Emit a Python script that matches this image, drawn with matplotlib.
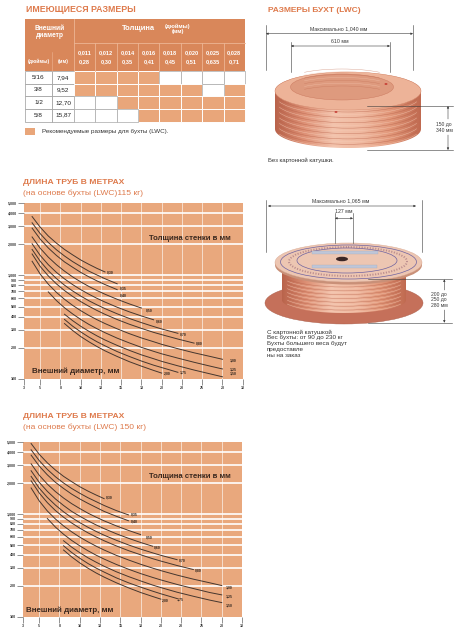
import numpy as np
import matplotlib
matplotlib.use("Agg")
import matplotlib.pyplot as plt
from matplotlib.patches import Ellipse, Rectangle, Polygon, Arc
from matplotlib.colors import LinearSegmentedColormap
from matplotlib.ticker import NullLocator

plt.rcParams['font.family'] = ['Liberation Sans', 'DejaVu Sans']

# ---- table of available sizes ----
sizes_inch = ["5/16", "3/8", "1/2", "5/8"]
sizes_mm = ["7,94", "9,52", "12,70", "15,87"]
wall_inch = ["0,011", "0,012", "0,014", "0,016", "0,018", "0,020", "0,025", "0,028"]
wall_mm = ["0,28", "0,30", "0,35", "0,41", "0,45", "0,51", "0,635", "0,71"]
recommended = [
    [1, 1, 1, 1, 0, 0, 0, 0],
    [1, 1, 1, 1, 1, 1, 0, 1],
    [0, 0, 1, 1, 1, 1, 1, 1],
    [0, 0, 0, 1, 1, 1, 1, 1],
]

# ---- tube length charts (outer diameter mm -> length m) ----
diam = [4, 5, 6, 7, 8, 9, 10, 11, 12, 13, 14.5, 16, 17.5, 19, 20, 22, 24, 26, 27.5]
wall_labels = ["0,30", "0,35", "0,40", "0,50", "0,60", "0,70", "0,80",
               "1,00", "1,25", "1,50", "1,75", "2,00"]
start_diam = [4, 4, 4, 4, 4, 4, 4, 4, 6, 8, 8, 8]

len_115 = [
    [3700, 2920, 2400, 2050, 1780, 1580, 1410, 1280, 1170, 1080],
    [3220, 2530, 2080, 1770, 1540, 1360, 1220, 1100, 1010, 929, 830],
    [2860, 2240, 1840, 1560, 1350, 1200, 1070, 970, 886, 816, 729],
    [2350, 1830, 1500, 1270, 1100, 968, 866, 783, 715, 658, 588, 531, 484],
    [2020, 1560, 1270, 1070, 926, 816, 729, 659, 601, 553, 493, 445, 406, 373],
    [1780, 1370, 1110, 933, 805, 708, 632, 570, 520, 478, 426, 384, 350, 321, 304, 276],
    [1610, 1220, 989, 829, 714, 627, 559, 504, 459, 421, 375, 338, 308, 282, 268, 243, 222],
    [1370, 1030, 823, 686, 588, 514, 457, 411, 374, 343, 305, 274, 249, 229, 216, 196, 179, 165, 155],
    [693, 572, 487, 425, 376, 337, 306, 280, 248, 223, 202, 185, 175, 159, 145, 133, 125],
    [422, 366, 323, 289, 261, 238, 211, 189, 171, 157, 148, 134, 122, 112, 105],
    [376, 324, 285, 254, 229, 209, 184, 165, 149, 136, 129, 116],
    [343, 294, 257, 229, 206, 187, 165, 147, 133, 121, 114],
]
len_150 = [
    [4830, 3800, 3140, 2670, 2320, 2060, 1840, 1670, 1530, 1410],
    [4200, 3300, 2710, 2300, 2000, 1770, 1590, 1440, 1320, 1210, 1080, 980],
    [3730, 2920, 2400, 2030, 1770, 1560, 1400, 1270, 1160, 1060, 951, 860],
    [3070, 2380, 1950, 1650, 1430, 1260, 1130, 1020, 933, 858, 767, 693, 631],
    [2630, 2030, 1660, 1400, 1210, 1060, 951, 860, 784, 721, 643, 581, 529, 486],
    [2320, 1780, 1450, 1220, 1050, 923, 824, 744, 678, 623, 556, 501, 456, 419, 397, 360],
    [2100, 1600, 1290, 1080, 931, 818, 729, 657, 599, 550, 490, 441, 402, 368, 349, 316, 289],
    [1790, 1340, 1070, 894, 766, 671, 596, 537, 488, 447, 397, 358, 325, 298, 282, 255, 233, 215, 202],
    [904, 746, 636, 554, 491, 440, 399, 365, 324, 291, 264, 242, 229, 207, 189, 173, 164],
    [550, 477, 421, 376, 341, 311, 275, 247, 224, 204, 193, 174, 159, 146, 138],
    [491, 423, 372, 331, 299, 273, 240, 215, 195, 178, 168, 151],
    [447, 383, 335, 298, 268, 244, 215, 192, 173, 158, 149],
]
label_pos_115 = [(13.6, 1062), (15.3, 748), (15.3, 644), (18.5, 460), (19.7, 357), (22.6, 272),
                 (24.6, 222), (28.8, 151), (28.8, 125), (28.8, 112), (22.6, 115), (20.7, 112)]
label_pos_150 = [(13.6, 1436), (16.7, 984), (16.7, 840), (18.6, 598), (19.5, 474), (22.6, 353),
                 (24.6, 283), (28.4, 195), (28.4, 157), (28.4, 130), (22.4, 149), (20.5, 144)]

x_ticks = [3, 5, 7.5, 10, 12.5, 15, 17.5, 20, 22.5, 25, 27.5, 30]
x_tick_labels = ["3", "5", "8", "10", "13", "15", "18", "20", "23", "25", "28", "30"]
y_ticks = [100, 200, 300, 400, 500, 600, 700, 800, 900, 1000, 2000, 3000, 4000, 5000]
y_tick_labels = ["100", "200", "300", "400", "500", "600", "700", "800", "900",
                 "1,000", "2,000", "3,000", "4,000", "5,000"]

W, H = 464, 630
ORANGE = '#DE7A4C'
CHART_BG = '#E9A87D'
HEADER = '#D9875A'
CELL = '#E9A67A'
CURVE = '#45362e'
DIM = '#3a3a3a'

fig = plt.figure(figsize=(W / 100, H / 100), dpi=100)
bg = fig.add_axes([0, 0, 1, 1])
bg.axis('off')


def rect(l, t, r, b):
    return [l / W, 1 - b / H, (r - l) / W, (b - t) / H]


def ftext(x, y, s, **kw):
    fig.text(x / W, 1 - y / H, s, **kw)


def ell_pts(cx, cy, w, h, a0, a1, n=80):
    t = np.radians(np.linspace(a0, a1, n))
    return np.column_stack([cx + w / 2 * np.cos(t), cy + h / 2 * np.sin(t)])


# ---------------- table ----------------
bg.text(26, 10, "ИМЕЮЩИЕСЯ РАЗМЕРЫ", fontsize=6.3, fontweight='bold', color=ORANGE, va='center')
bg.add_patch(Rectangle((25, 19), 220, 52, fc=HEADER, ec='none'))
col_x = np.linspace(74, 245, len(wall_inch) + 1)
row_y = np.linspace(71, 121.5, len(sizes_inch) + 1)
sep = '#EDB594'
bg.plot([74, 74], [19, 71], color=sep, lw=0.6)
bg.plot([52, 52], [52, 71], color=sep, lw=0.4)
bg.plot([74, 245], [43, 43], color=sep, lw=0.6)
for x in col_x[1:-1]:
    bg.plot([x, x], [43, 71], color=sep, lw=0.6)
bg.text(50, 32, "Внешний\nдиаметр", fontsize=4.8, fontweight='bold', color='white',
        ha='center', va='center', linespacing=1.1)
bg.text(38.5, 61, "(дюймы)", fontsize=3.6, fontweight='bold', color='white', ha='center', va='center')
bg.text(63, 61, "(мм)", fontsize=3.6, fontweight='bold', color='white', ha='center', va='center')
bg.text(138, 29, "Толщина", fontsize=5.4, fontweight='bold', color='white', ha='center', va='center')
bg.text(178, 29, "(дюймы)\n(мм)", fontsize=4.2, fontweight='bold', color='white',
        ha='center', va='center', linespacing=1.05)
for j in range(len(wall_inch)):
    xc = (col_x[j] + col_x[j + 1]) / 2
    bg.text(xc, 53, wall_inch[j], fontsize=4.1, fontweight='bold', color='white', ha='center', va='center')
    bg.text(xc, 62, wall_mm[j], fontsize=4.1, fontweight='bold', color='white', ha='center', va='center')

cw = col_x[1] - col_x[0]
rh = row_y[1] - row_y[0]
for i in range(len(sizes_inch)):
    bg.add_patch(Rectangle((25, row_y[i]), 27, rh, fc='white', ec='#9a9a9a', lw=0.5))
    bg.add_patch(Rectangle((52, row_y[i]), 22, rh, fc='white', ec='#9a9a9a', lw=0.5))
    bg.text(38.5, row_y[i] + rh / 2, sizes_inch[i], fontsize=4.6, ha='center', va='center', color='#222')
    bg.text(63, row_y[i] + rh / 2, sizes_mm[i], fontsize=4.6, ha='center', va='center', color='#222')
    for j, rec in enumerate(recommended[i]):
        if rec:
            bg.add_patch(Rectangle((col_x[j], row_y[i]), cw, rh, fc=CELL, ec='white', lw=0.7))
    for j, rec in enumerate(recommended[i]):
        if not rec:
            bg.add_patch(Rectangle((col_x[j], row_y[i]), cw, rh, fc='white', ec='#a8a8a8', lw=0.5))
bg.add_patch(Rectangle((25, 128), 10, 6.5, fc=CELL, ec='none'))
bg.text(42, 131.5, "Рекомендуемые размеры для бухты (LWC).", fontsize=4.5, color='#333', va='center')


# ---------------- length charts ----------------
def length_chart(box, lengths, label_pos, title_y, subtitle, wall_xy, diam_xy):
    bg.text(23, title_y, "ДЛИНА ТРУБ В МЕТРАХ", fontsize=6.1, fontweight='bold', color=ORANGE, va='center')
    bg.text(23, title_y + 10, subtitle, fontsize=6.1, color=ORANGE, va='center')
    ax = fig.add_axes(rect(*box))
    ax.set_facecolor(CHART_BG)
    ax.set_yscale('log')
    for y in y_ticks[1:-1]:
        ax.axhline(y, color='white', lw=1.2, zorder=1)
    for x in x_ticks[1:-1]:
        ax.axvline(x, color='white', lw=0.6, alpha=0.7, zorder=1)
    for vals, d0, lab, (lx, ly) in zip(lengths, start_diam, wall_labels, label_pos):
        i0 = diam.index(d0)
        ax.plot(diam[i0:i0 + len(vals)], vals, color=CURVE, lw=0.7, zorder=3)
        ax.text(lx, ly, lab, fontsize=2.5, fontweight='bold', ha='center', va='center',
                color='#2e241e', zorder=4)
    ax.set_xlim(3, 30)
    ax.set_ylim(100, 5000)
    ax.set_xticks(x_ticks, x_tick_labels)
    ax.set_yticks(y_ticks, y_tick_labels)
    ax.yaxis.set_minor_locator(NullLocator())
    ax.tick_params(length=4, width=0.5, color='#666', labelsize=2.6, pad=1, labelcolor='#333')
    for lab in ax.get_xticklabels() + ax.get_yticklabels():
        lab.set_fontweight('bold')
    for s in ax.spines.values():
        s.set_visible(False)
    ftext(*wall_xy, "Толщина стенки в мм", fontsize=5.6, fontweight='bold', color='#3a281e',
          ha='center', va='center')
    ftext(*diam_xy, "Внешний диаметр, мм", fontsize=5.8, fontweight='bold', color='#3a281e',
          ha='center', va='center')
    return ax


length_chart((24, 203, 242.7, 379), len_115, label_pos_115, 183,
             "(на основе бухты (LWC)115 кг)", (190, 238), (76, 371))
length_chart((23, 442, 242, 617), len_150, label_pos_150, 417,
             "(на основе бухты (LWC) 150 кг)", (190, 476), (70, 610))


# ---------------- coil drawings ----------------
cu_cmap = LinearSegmentedColormap.from_list(
    'cu', ['#B9634B', '#DE9176', '#F3C3AC', '#F0B9A0', '#E19678', '#C06A50'])
grad = np.linspace(0, 1, 256)[None, :]


def dim_h(x1, x2, y):
    bg.annotate('', xy=(x2, y), xytext=(x1, y),
                arrowprops=dict(arrowstyle='<|-|>', lw=0.4, color=DIM, mutation_scale=3,
                                shrinkA=0, shrinkB=0))


def dim_v(x, y1, y2):
    bg.annotate('', xy=(x, y2), xytext=(x, y1),
                arrowprops=dict(arrowstyle='-|>', lw=0.4, color=DIM, mutation_scale=3,
                                shrinkA=0, shrinkB=0))


def copper_side(cx, ytop, ybot, w, h, x0, x1):
    sil = np.vstack([ell_pts(cx, ytop, w, h, 180, 360), ell_pts(cx, ybot, w, h, 0, 180)])
    poly = Polygon(sil, closed=True, fc='none', ec='none')
    bg.add_patch(poly)
    im = bg.imshow(grad, extent=[x0, x1, ybot + h, ytop - h], cmap=cu_cmap, aspect='auto', zorder=2)
    im.set_clip_path(poly)
    for k, yy in enumerate(np.linspace(ytop + 2, ybot - 1, 14)):
        col = '#F6CDB8' if k % 2 else '#B8624A'
        bg.add_patch(Arc((cx, yy), w - 1, h, theta1=5, theta2=175, color=col,
                         lw=0.35, alpha=0.7, zorder=3))


# coil 1 (no spool)
bg.text(268, 10, "РАЗМЕРЫ БУХТ (LWC)", fontsize=6, fontweight='bold', color=ORANGE, va='center')
copper_side(348, 91, 129, 146, 38, 275, 421)
bg.add_patch(Ellipse((348, 91), 146, 38, fc='#EDB398', ec='#D48A6E', lw=0.3, zorder=4))
bg.add_patch(Ellipse((342, 87), 103, 26, fc='#DE9A7E', ec='#C9765C', lw=0.3, zorder=5))
for k, yy in enumerate(np.linspace(79, 96, 7)):
    bg.add_patch(Arc((342, yy), 101, 20, theta1=190, theta2=350,
                     color='#F4C6B0' if k % 2 else '#C47258', lw=0.3, alpha=0.7, zorder=6))
bg.add_patch(Ellipse((386, 84), 3, 1.6, fc='#C2302A', ec='none', zorder=7))
bg.add_patch(Ellipse((336, 112), 3, 1.6, fc='#C2302A', ec='none', zorder=7))
for x, y0, y1 in [(266, 25, 70), (413, 25, 70), (291, 42, 72), (390, 42, 72)]:
    bg.plot([x, x], [y0, y1], color=DIM, lw=0.4, zorder=8)
dim_h(266, 413, 33.7)
dim_h(291, 390, 46)
bg.text(339, 29, "Максимально 1,040 мм", fontsize=3.8, color=DIM, ha='center', va='center')
bg.text(340, 41.3, "610 мм", fontsize=3.8, color=DIM, ha='center', va='center')
bg.plot([367, 453], [106, 106], color=DIM, lw=0.4, zorder=8)
bg.plot([367, 453], [150, 150], color=DIM, lw=0.4, zorder=8)
dim_v(448, 119, 106)
dim_v(448, 135, 150)
bg.text(444, 127.5, "150 до\n340 мм", fontsize=3.6, color=DIM, ha='center', va='center', linespacing=1.1)
bg.text(268, 160, "Без картонной катушки.", fontsize=4.3, color='#333', va='center')

# coil 2 (with cardboard spool)
bg.add_patch(Ellipse((344, 303), 158, 42, fc='#C5705A', ec='#A85A46', lw=0.3, zorder=1))
copper_side(344, 272, 300, 124, 26, 282, 406)
bg.add_patch(Ellipse((348.5, 265), 147, 39, fc='#C99078', ec='none', zorder=4))
bg.add_patch(Ellipse((348.5, 262.5), 147, 39, fc='#EDC6B2', ec='#D8A892', lw=0.3, zorder=5))
bg.add_patch(Ellipse((348.5, 262), 136, 34, fc='none', ec='#6E62A0', lw=0.5, zorder=6))
bg.add_patch(Ellipse((348, 261.5), 118, 29, fc='none', ec='#9A6878', lw=1.4, ls=(0, (0.6, 0.8)),
                     alpha=0.6, zorder=6))
bg.add_patch(Ellipse((347, 260.5), 100, 25, fc='none', ec='#6E62A0', lw=0.5, zorder=6))
bg.add_patch(Rectangle((312, 250.5), 66, 3, fc='#BFC6D8', ec='#9AA3B8', lw=0.2, zorder=7))
bg.add_patch(Rectangle((312, 264.8), 65, 2.8, fc='#BFC6D8', ec='#9AA3B8', lw=0.2, zorder=7))
bg.add_patch(Ellipse((342, 259), 12, 4.5, fc='#3b2626', ec='none', zorder=7))
for x, y0, y1 in [(266, 200, 252), (422, 200, 252), (335, 213, 243), (353, 213, 243)]:
    bg.plot([x, x], [y0, y1], color=DIM, lw=0.4, zorder=8)
dim_h(268, 416, 206)
dim_h(335, 353, 218.3)
bg.text(341, 201, "Максимально 1,065 мм", fontsize=3.8, color=DIM, ha='center', va='center')
bg.text(344, 211.5, "127 мм", fontsize=3.8, color=DIM, ha='center', va='center')
bg.plot([368, 452], [279.3, 279.3], color=DIM, lw=0.4, zorder=8)
bg.plot([368, 452], [322.7, 322.7], color=DIM, lw=0.4, zorder=8)
dim_v(444.3, 290, 279.3)
dim_v(444.3, 310, 322.7)
bg.text(439, 300, "200 до\n250 до\n280 мм", fontsize=3.6, color=DIM, ha='center', va='center',
        linespacing=1.1)
bg.text(267, 329.5, "С картонной катушкой\nВес бухты: от 90 до 230 кг\nБухты большего веса будут\n"
        "предоставле\nны на заказ", fontsize=4.5, color='#333', va='top', linespacing=1.2)

bg.set_xlim(0, W)
bg.set_ylim(H, 0)
fig.savefig("out.png", dpi=100)
